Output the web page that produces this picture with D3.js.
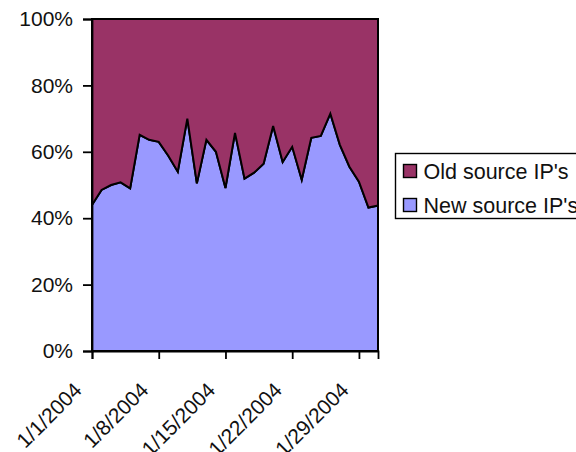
<!DOCTYPE html>
<html>
<head>
<meta charset="utf-8">
<script src="https://cdn.jsdelivr.net/npm/d3@7"></script>
<style>
    body { margin: 0; background: #fff; }
    text { font-family: "Liberation Sans", Arial, sans-serif; fill: #111; }
</style>
</head>
<body>
<div id="chart"></div>
<script>
// DATA

const days = ["2004-01-01", "2004-01-02", "2004-01-03", "2004-01-04", "2004-01-05", "2004-01-06",
    "2004-01-07", "2004-01-08", "2004-01-09", "2004-01-10", "2004-01-11", "2004-01-12",
    "2004-01-13", "2004-01-14", "2004-01-15", "2004-01-16", "2004-01-17", "2004-01-18",
    "2004-01-19", "2004-01-20", "2004-01-21", "2004-01-22", "2004-01-23", "2004-01-24",
    "2004-01-25", "2004-01-26", "2004-01-27", "2004-01-28", "2004-01-29", "2004-01-30",
    "2004-01-31"];

const newSourcePct = [44.0, 48.5, 50.0, 50.8, 49.0, 65.1, 63.6, 63.0, 58.8, 54.0,
    70.0, 50.5, 63.6, 60.0, 49.1, 65.7, 51.9, 53.7, 56.4, 67.8,
    56.9, 61.5, 51.6, 64.2, 64.8, 71.5, 62.1, 55.5, 51.0, 43.2, 43.8];

const oldSourcePct = [56.0, 51.5, 50.0, 49.2, 51.0, 34.9, 36.4, 37.0, 41.2, 46.0,
    30.0, 49.5, 36.4, 40.0, 50.9, 34.3, 48.1, 46.3, 43.6, 32.2,
    43.1, 38.5, 48.4, 35.8, 35.2, 28.5, 37.9, 44.5, 49.0, 56.8, 56.2];

const tickDays = ["2004-01-01", "2004-01-08", "2004-01-15", "2004-01-22", "2004-01-29"];
const yTicks = [0, 20, 40, 60, 80, 100];

const seriesNames = ["New source IP's", "Old source IP's"];
const seriesColors = ["#9999ff", "#993366"];

// SETUP

const W = 576, H = 452;
const plot = { left: 92, right: 378, top: 19, bottom: 351 };
const fontSize = 21;

const svg = d3.select("#chart").append("svg")
    .attr("width", W)
    .attr("height", H);

const parse = d3.timeParse("%Y-%m-%d");
const fmt = d3.timeFormat("%-m/%-d/%Y");

const rows = days.map((d, i) => ({
    date: parse(d),
    newIP: newSourcePct[i],
    oldIP: oldSourcePct[i]
}));

const x = d3.scaleTime()
    .domain(d3.extent(rows, d => d.date))
    .range([plot.left, plot.right]);

const y = d3.scaleLinear()
    .domain([0, 100])
    .range([plot.bottom, plot.top]);

const stacked = d3.stack().keys(["newIP", "oldIP"])(rows);

const area = d3.area()
    .x(d => x(d.data.date))
    .y0(d => y(d[0]))
    .y1(d => y(d[1]));

// AREAS

svg.append("g")
    .selectAll("path")
    .data(stacked)
    .join("path")
    .attr("d", area)
    .attr("fill", (d, i) => seriesColors[i])
    .attr("stroke", "#000")
    .attr("stroke-width", 2)
    .attr("stroke-linejoin", "miter");

// Y AXIS
const yAxis = svg.append("g")
    .attr("transform", `translate(${plot.left},0)`)
    .call(d3.axisLeft(y)
        .tickValues(yTicks)
        .tickSize(9)
        .tickPadding(10)
        .tickFormat(d => d + "%"));

yAxis.select(".domain").attr("stroke", "#000").attr("stroke-width", 1.8);
yAxis.selectAll(".tick line").attr("stroke", "#000").attr("stroke-width", 1.8);
yAxis.selectAll("text")
    .style("font-size", fontSize + "px")
    .attr("fill", "#111");

// X AXIS
const xAxis = svg.append("g")
    .attr("transform", `translate(0,${plot.bottom})`)
    .call(d3.axisBottom(x)
        .tickValues(tickDays.map(parse))
        .tickSize(8)
        .tickFormat(fmt));

xAxis.select(".domain").attr("stroke", "#000").attr("stroke-width", 1.8);
xAxis.selectAll(".tick line").attr("stroke", "#000").attr("stroke-width", 1.8);
// labels run off the bottom edge, as in the source image
xAxis.selectAll("text")
    .style("font-size", fontSize + "px")
    .attr("fill", "#111")
    .attr("text-anchor", "end")
    .attr("dy", "0.71em")
    .attr("transform", "translate(-20,30) rotate(-45)")
    .attr("y", 0)
    .attr("x", 0);

// LEGEND
const legend = svg.append("g")
    .attr("transform", "translate(395.5,153.5)");

legend.append("rect")
    .attr("width", 200)
    .attr("height", 65)
    .attr("fill", "#fff")
    .attr("stroke", "#000")
    .attr("stroke-width", 1.4);

const legendOrder = [1, 0];

const items = legend.selectAll(".legend-item")
    .data(legendOrder)
    .join("g")
    .attr("class", "legend-item")
    .attr("transform", (d, i) => `translate(8, ${17.5 + i * 34})`);

items.append("rect")
    .attr("y", -6.5)
    .attr("width", 13)
    .attr("height", 13)
    .attr("fill", d => seriesColors[d])
    .attr("stroke", "#000")
    .attr("stroke-width", 1.4);

items.append("text")
    .attr("x", 20)
    .attr("y", 0)
    .attr("dy", "0.35em")
    .style("font-size", "21.5px")
    .text(d => seriesNames[d]);
</script>
</body>
</html>
